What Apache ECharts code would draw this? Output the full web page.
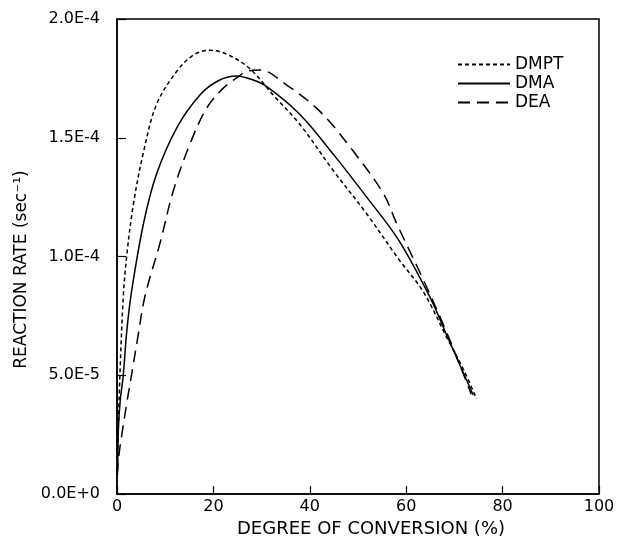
<!DOCTYPE html>
<html>
<head>
<meta charset="utf-8">
<script src="https://cdn.jsdelivr.net/npm/echarts@6/dist/echarts.min.js"></script>
<style>html,body{margin:0;padding:0;background:#fff}#c{width:618px;height:543px}</style>
</head>
<body>
<div id="c"></div>
<script>
// Rates in units of 1e-4 sec^-1, conversion in %
var seriesNames = ['DMPT', 'DMA', 'DEA'];
var dmptX = [0.1, 0.3, 0.6, 1.3, 2.0, 3.4, 5.5, 8.2, 12.4, 16.0, 19.3, 23.0, 27.6, 32.4, 38.0, 44.9, 51.8, 58.4, 63.6, 68.4, 72.0, 74.6];
var dmptY = [0.10, 0.30, 0.50, 0.83, 1.00, 1.22, 1.44, 1.64, 1.78, 1.85, 1.868, 1.85, 1.79, 1.68, 1.555, 1.361, 1.18, 0.99, 0.85, 0.66, 0.52, 0.40];
var dmaX = [0.1, 0.3, 0.7, 1.3, 2.0, 3.0, 5.5, 8.2, 12.4, 17.2, 21.0, 24.8, 28.0, 31.1, 38.0, 44.9, 51.8, 58.4, 64.9, 68.4, 71.0, 73.9];
var dmaY = [0.08, 0.28, 0.40, 0.50, 0.68, 0.85, 1.139, 1.347, 1.542, 1.68, 1.74, 1.76, 1.745, 1.715, 1.597, 1.43, 1.25, 1.07, 0.83, 0.67, 0.55, 0.417];
var deaX = [0.0, 0.5, 1.0, 2.0, 3.0, 4.4, 5.8, 8.9, 11.7, 15.1, 18.6, 22.0, 25.0, 27.0, 29.7, 35.2, 42.1, 49.0, 55.3, 58.0, 63.6, 68.0, 71.0, 73.5];
var deaY = [0.08, 0.18, 0.25, 0.38, 0.50, 0.67, 0.833, 1.055, 1.278, 1.472, 1.625, 1.708, 1.755, 1.78, 1.785, 1.722, 1.611, 1.444, 1.264, 1.14, 0.90, 0.70, 0.55, 0.42];
var yTickLabels = ['0.0E+0', '5.0E-5', '1.0E-4', '1.5E-4', '2.0E-4'];
var xTickLabels = ['0', '20', '40', '60', '80', '100'];

function pairs(xs, ys) { return xs.map(function (x, i) { return [x, ys[i]]; }); }

var FONT = 'DejaVu Sans';
var chart = echarts.init(document.getElementById('c'), null, {renderer: 'canvas'});
var dashStyles = [[4, 3], 'solid', [12, 7]];
var allData = [pairs(dmptX, dmptY), pairs(dmaX, dmaY), pairs(deaX, deaY)];

chart.setOption({
  animation: false,
  backgroundColor: '#fff',
  grid: {left: 117, right: 19, top: 19, bottom: 43, show: true, borderColor: '#000', borderWidth: 1.5, backgroundColor: 'transparent'},
  legend: {
    orient: 'vertical', left: 452, top: 51,
    itemWidth: 52, itemHeight: 12, itemGap: 2,
    data: seriesNames,
    itemStyle: {opacity: 0, borderWidth: 0},
    textStyle: {fontFamily: FONT, fontSize: 17, color: '#000'}
  },
  xAxis: {
    type: 'value', min: 0, max: 100, interval: 20,
    name: 'DEGREE OF CONVERSION (%)', nameLocation: 'middle', nameGap: 24,
    nameTextStyle: {fontFamily: FONT, fontSize: 18, color: '#000', padding: [0, 0, 0, 26]},
    axisLine: {lineStyle: {color: '#000', width: 1.5}},
    axisTick: {inside: true, length: 8, lineStyle: {color: '#000', width: 1.2}},
    axisLabel: {fontFamily: FONT, fontSize: 16, color: '#000', margin: 5,
      formatter: function (v) { return xTickLabels[Math.round(v / 20)]; }},
    splitLine: {show: false}
  },
  yAxis: {
    type: 'value', min: 0, max: 2, interval: 0.5,
    name: 'REACTION RATE (sec\u207B\u00B9)', nameLocation: 'middle', nameRotate: 90, nameGap: 86,
    nameTextStyle: {fontFamily: FONT, fontSize: 17, color: '#000', padding: [0, 26, 0, 0]},
    axisLine: {lineStyle: {color: '#000', width: 1.5}},
    axisTick: {inside: true, length: 9, lineStyle: {color: '#000', width: 1.2}},
    axisLabel: {fontFamily: FONT, fontSize: 16, color: '#000', margin: 17,
      formatter: function (v) { return yTickLabels[Math.round(v / 0.5)]; }},
    splitLine: {show: false}
  },
  series: seriesNames.map(function (n, i) {
    return {
      name: n, type: 'line', data: allData[i], smooth: 0.35,
      showSymbol: false, symbol: 'none',
      lineStyle: {color: '#000', width: 1.5, type: dashStyles[i]},
      itemStyle: {color: '#000'}
    };
  })
});
</script>
</body>
</html>
